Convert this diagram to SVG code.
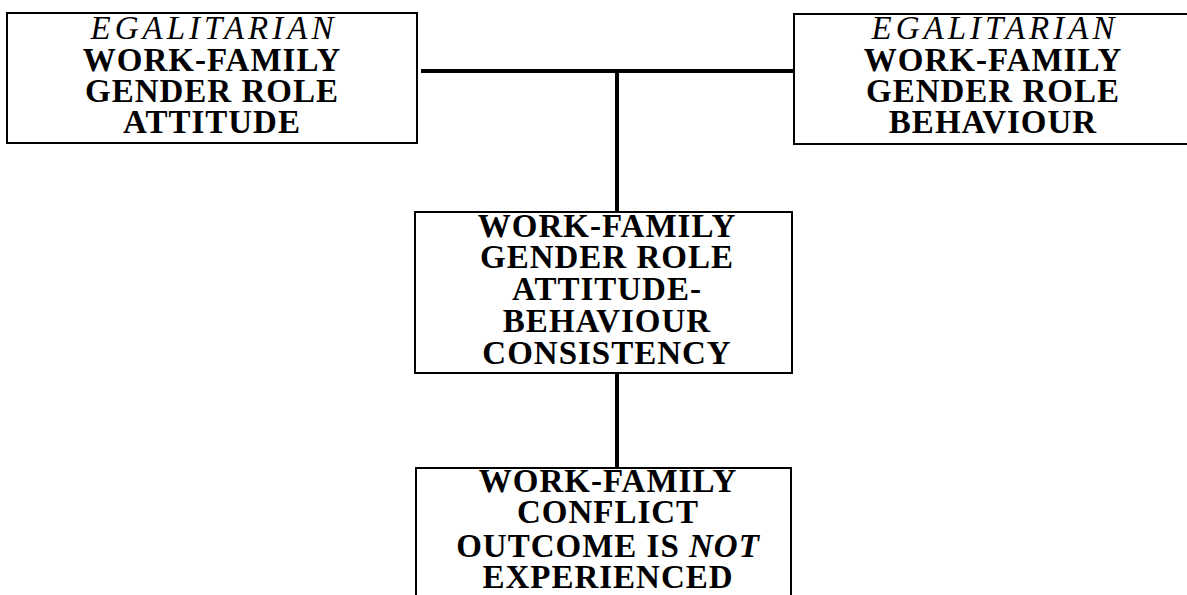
<svg xmlns="http://www.w3.org/2000/svg" width="1187" height="595" viewBox="0 0 1187 595">
  <style>
    .box { fill: #fff; stroke: #000; stroke-width: 2; }
    .link { stroke: #000; stroke-width: 4; fill: none; }
    text { font-family: "Liberation Serif", "Times New Roman", serif; font-size: 33px; font-weight: bold; letter-spacing: 1px; text-anchor: middle; fill: #000; }
    .it { font-style: italic; font-weight: normal; letter-spacing: 4px; }
    .em { font-style: italic; }
  </style>
  <rect width="1187" height="595" fill="#fff"/>

  <g id="connectors">
    <line class="link" x1="421" y1="71" x2="794" y2="71"/>
    <line class="link" x1="617" y1="71" x2="617" y2="212"/>
    <line class="link" x1="617" y1="373" x2="617" y2="468"/>
  </g>

  <g id="attitude">
    <rect class="box" x="7" y="13" width="410" height="130"/>
    <text x="214" y="39" class="it">EGALITARIAN</text>
    <text x="212" y="71">WORK-FAMILY</text>
    <text x="212" y="102">GENDER ROLE</text>
    <text x="212" y="133">ATTITUDE</text>
  </g>

  <g id="behaviour">
    <rect class="box" x="794" y="14" width="400" height="130"/>
    <text x="995" y="39" class="it">EGALITARIAN</text>
    <text x="993" y="71">WORK-FAMILY</text>
    <text x="993" y="102">GENDER ROLE</text>
    <text x="993" y="133">BEHAVIOUR</text>
  </g>

  <g id="consistency">
    <rect class="box" x="415" y="212" width="377" height="161"/>
    <text x="607" y="237">WORK-FAMILY</text>
    <text x="607" y="268">GENDER ROLE</text>
    <text x="607" y="300">ATTITUDE-</text>
    <text x="607" y="332">BEHAVIOUR</text>
    <text x="607" y="364">CONSISTENCY</text>
  </g>

  <g id="outcome">
    <rect class="box" x="416" y="468" width="375" height="140"/>
    <text x="608" y="492">WORK-FAMILY</text>
    <text x="608" y="523">CONFLICT</text>
    <text x="608" y="557">OUTCOME IS <tspan class="em">NOT</tspan></text>
    <text x="608" y="588">EXPERIENCED</text>
  </g>
</svg>
